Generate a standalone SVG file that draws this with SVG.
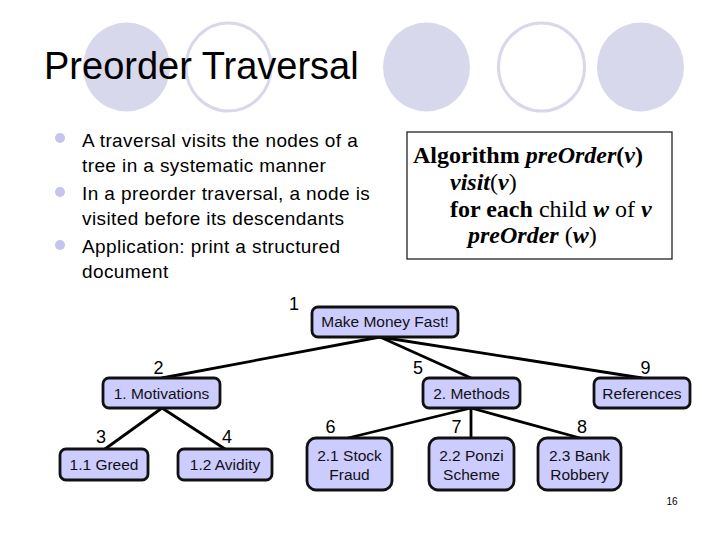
<svg xmlns="http://www.w3.org/2000/svg" width="720" height="540" viewBox="0 0 720 540">
<style>
.deco-f{fill:#d8d8ec;stroke:none}
.deco-o{fill:none;stroke:#d8d8ec;stroke-width:3}
.title{font-family:"Liberation Sans",Arial,sans-serif;font-size:38px;fill:#000}
.bul{fill:#c4c4ee}
.btxt{font-family:"Liberation Sans",Arial,sans-serif;font-size:19px;letter-spacing:0.4px;fill:#000}
.alg{font-family:"Liberation Serif","Times New Roman",serif;font-size:24px;fill:#000}
.b{font-weight:bold}
.bi{font-weight:bold;font-style:italic}
.node rect{fill:#ccccff;stroke:#111;stroke-width:2.8}
.node text{font-family:"Liberation Sans",Arial,sans-serif;font-size:15.5px;fill:#111;text-anchor:middle}
.num{font-family:"Liberation Sans",Arial,sans-serif;font-size:18px;fill:#000;text-anchor:middle}
#connectors line{stroke:#000;stroke-width:2.8;stroke-linecap:round}
</style>
<rect width="720" height="540" fill="#fff"/>
<g id="decoration">
<ellipse class="deco-f" cx="126.5" cy="67" rx="43.5" ry="44.5"/>
<ellipse class="deco-o" cx="228.5" cy="67" rx="42.5" ry="44"/>
<ellipse class="deco-f" cx="426.5" cy="67" rx="43.5" ry="44.5"/>
<ellipse class="deco-o" cx="541.5" cy="67" rx="43" ry="44"/>
<ellipse class="deco-f" cx="640.5" cy="67" rx="43.5" ry="44.5"/>
</g>
<text class="title" x="44" y="79">Preorder Traversal</text>
<g id="bullets">
<circle class="bul" cx="60" cy="138" r="5"/>
<circle class="bul" cx="60" cy="192" r="5"/>
<circle class="bul" cx="60" cy="245" r="5"/>
<text class="btxt" x="82" y="147">A traversal visits the nodes of a</text>
<text class="btxt" x="82" y="172">tree in a systematic manner</text>
<text class="btxt" x="82" y="200">In a preorder traversal, a node is</text>
<text class="btxt" x="82" y="225">visited before its descendants</text>
<text class="btxt" x="82" y="253">Application: print a structured</text>
<text class="btxt" x="82" y="278">document</text>
</g>
<g id="algorithm">
<rect x="407" y="132" width="265" height="127" fill="#fff" stroke="#222" stroke-width="1.3"/>
<text class="alg" x="413" y="163"><tspan class="b">Algorithm </tspan><tspan class="bi">preOrder</tspan><tspan class="b">(</tspan><tspan class="bi">v</tspan><tspan class="b">)</tspan></text>
<text class="alg" x="450" y="190"><tspan class="bi">visit</tspan><tspan>(</tspan><tspan class="bi">v</tspan><tspan>)</tspan></text>
<text class="alg" x="450" y="217"><tspan class="b">for each</tspan><tspan> child </tspan><tspan class="bi">w</tspan><tspan> of </tspan><tspan class="bi">v</tspan></text>
<text class="alg" x="468" y="243"><tspan class="bi">preOrder</tspan><tspan> (</tspan><tspan class="bi">w</tspan><tspan>)</tspan></text>
</g>
<g id="connectors">
<line x1="380" y1="337" x2="162" y2="378"/>
<line x1="380" y1="337" x2="471" y2="378"/>
<line x1="380" y1="337" x2="642" y2="378"/>
<line x1="162" y1="408" x2="105" y2="449"/>
<line x1="162" y1="408" x2="225" y2="449"/>
<line x1="471" y1="408" x2="348" y2="438"/>
<line x1="471" y1="408" x2="471" y2="438"/>
<line x1="471" y1="408" x2="580" y2="438"/>
</g>
<g id="n1" class="node"><rect x="312" y="307" width="146" height="30" rx="6"/><text x="385" y="327">Make Money Fast!</text></g>
<g id="n2" class="node"><rect x="103" y="378" width="117" height="30" rx="6"/><text x="161.5" y="399">1. Motivations</text></g>
<g id="n5" class="node"><rect x="423" y="378" width="97" height="30" rx="6"/><text x="471.5" y="399">2. Methods</text></g>
<g id="n9" class="node"><rect x="594" y="378" width="96" height="30" rx="6"/><text x="642" y="399">References</text></g>
<g id="n3" class="node"><rect x="60" y="449" width="88" height="31" rx="6"/><text x="104" y="470">1.1 Greed</text></g>
<g id="n4" class="node"><rect x="178" y="449" width="94" height="31" rx="6"/><text x="225" y="470">1.2 Avidity</text></g>
<g id="n6" class="node"><rect x="307" y="438" width="85" height="52" rx="9"/><text x="349.5" y="461">2.1 Stock</text><text x="349.5" y="480">Fraud</text></g>
<g id="n7" class="node"><rect x="429" y="438" width="85" height="52" rx="9"/><text x="471.5" y="461">2.2 Ponzi</text><text x="471.5" y="480">Scheme</text></g>
<g id="n8" class="node"><rect x="538" y="438" width="83" height="52" rx="9"/><text x="579.5" y="461">2.3 Bank</text><text x="579.5" y="480">Robbery</text></g>
<g id="numbers">
<text class="num" x="294" y="310">1</text>
<text class="num" x="158.5" y="374">2</text>
<text class="num" x="418" y="374">5</text>
<text class="num" x="645.5" y="374">9</text>
<text class="num" x="101" y="443">3</text>
<text class="num" x="227" y="443">4</text>
<text class="num" x="330.5" y="433">6</text>
<text class="num" x="456.5" y="433">7</text>
<text class="num" x="582" y="433">8</text>
</g>
<text x="672" y="505" font-family="Liberation Sans,Arial,sans-serif" font-size="10" text-anchor="middle">16</text>
</svg>
